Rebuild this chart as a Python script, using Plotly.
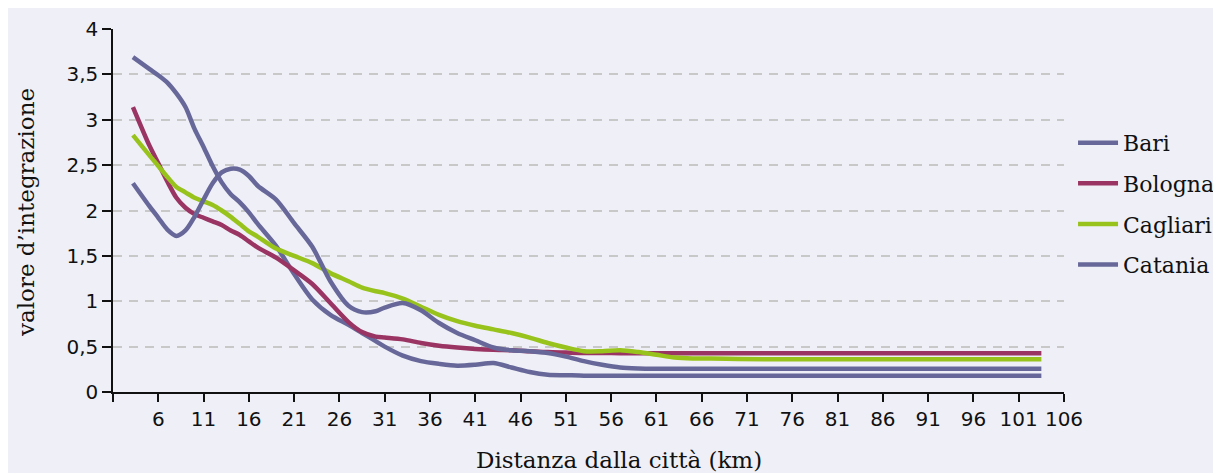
import plotly.graph_objects as go

# Distance from the city (km) at which values were read
km = [3.2, 5, 6, 7, 8, 9, 10, 11, 12, 13, 14, 15, 16, 17, 19, 21, 23, 25, 27, 28.5,
      30, 31, 33, 35, 37, 39, 41, 43, 45, 47, 49, 51, 53, 55, 57, 59, 61, 63, 65, 67,
      70, 75, 103.5]

bari = [3.69, 3.56, 3.49, 3.41, 3.29, 3.14, 2.90, 2.70, 2.49, 2.31, 2.18, 2.09, 1.98, 1.85, 1.61, 1.30, 1.02, 0.85, 0.74, 0.65,
        0.56, 0.50, 0.40, 0.34, 0.31, 0.29, 0.30, 0.32, 0.27, 0.22, 0.19, 0.185, 0.18, 0.18, 0.18, 0.18, 0.18, 0.18, 0.18, 0.18,
        0.18, 0.18, 0.18]

bologna = [3.14, 2.72, 2.52, 2.32, 2.14, 2.03, 1.96, 1.92, 1.88, 1.84, 1.78, 1.73, 1.66, 1.59, 1.48, 1.34, 1.19, 0.98, 0.77, 0.66,
           0.61, 0.60, 0.58, 0.54, 0.51, 0.49, 0.475, 0.465, 0.46, 0.45, 0.44, 0.435, 0.43, 0.43, 0.428, 0.427, 0.426, 0.426, 0.426, 0.426,
           0.426, 0.426, 0.426]

cagliari = [2.83, 2.61, 2.49, 2.37, 2.26, 2.20, 2.14, 2.10, 2.06, 2.00, 1.93, 1.85, 1.77, 1.71, 1.58, 1.50, 1.42, 1.31, 1.22, 1.15,
            1.11, 1.09, 1.03, 0.94, 0.85, 0.78, 0.73, 0.69, 0.65, 0.60, 0.54, 0.49, 0.45, 0.45, 0.46, 0.44, 0.41, 0.38, 0.37, 0.37,
            0.365, 0.36, 0.36]

catania = [2.30, 2.05, 1.92, 1.79, 1.72, 1.78, 1.93, 2.12, 2.30, 2.42, 2.46, 2.45, 2.38, 2.27, 2.12, 1.86, 1.60, 1.22, 0.95, 0.88,
           0.89, 0.93, 0.98, 0.90, 0.76, 0.65, 0.57, 0.49, 0.46, 0.45, 0.43, 0.39, 0.34, 0.30, 0.27, 0.26, 0.257, 0.257, 0.257, 0.257,
           0.257, 0.257, 0.257]

series_names = ["Bari", "Bologna", "Cagliari", "Catania"]
series_values = [bari, bologna, cagliari, catania]
series_colors = ["#676899", "#9A3462", "#98C21C", "#676899"]

x_tickvals = list(range(1, 107, 5))
x_ticktext = [""] + [str(v) for v in range(6, 107, 5)]
y_tickvals = [0, 0.5, 1, 1.5, 2, 2.5, 3, 3.5, 4]

BG = "#EFF0F7"
SERIF = "DejaVu Serif"
SANS = "DejaVu Sans"
INK = "#111111"

fig = go.Figure()
for i, (name, vals, col) in enumerate(zip(series_names, series_values, series_colors)):
    fig.add_trace(go.Scatter(
        x=km, y=vals, name=name, mode="lines",
        line=dict(color=col, width=4.5, shape="spline", smoothing=0.8),
        legendgroup=name,
    ))

# page body has an 8px margin; figure is sized to fit the window
fig.update_layout(
    width=1213, height=465,
    margin=dict(l=105, r=157, t=21, b=81, autoexpand=False),
    paper_bgcolor=BG, plot_bgcolor=BG,
    separators=",.",
    showlegend=True,
    legend=dict(
        x=1.0095, xanchor="left", y=0.518, yanchor="middle",
        font=dict(family=SERIF, size=22, color=INK),
        bgcolor="rgba(0,0,0,0)", tracegroupgap=9,
        itemwidth=40,
    ),
    xaxis=dict(
        range=[1, 106], tickvals=x_tickvals, ticktext=x_ticktext,
        showgrid=False, zeroline=False,
        showline=True, linecolor=INK, linewidth=1.5,
        ticks="outside", ticklen=8, tickwidth=1.5, tickcolor=INK,
        tickfont=dict(family=SANS, size=20, color=INK),
    ),
    yaxis=dict(
        range=[0, 4], tickvals=y_tickvals,
        showgrid=True, gridcolor="#C8C8C8", gridwidth=1.5, griddash="9px,7px",
        zeroline=False,
        showline=True, linecolor=INK, linewidth=1.5,
        ticks="outside", ticklen=9, tickwidth=1.5, tickcolor=INK,
        tickfont=dict(family=SANS, size=20, color=INK),
    ),
    annotations=[
        dict(text="Distanza dalla città (km)", xref="paper", yref="paper",
             x=(619 - 113) / 951, y=-(460 - 392) / 363, xanchor="center", yanchor="middle",
             showarrow=False, font=dict(family=SERIF, size=23, color=INK)),
        dict(text="valore d’integrazione", xref="paper", yref="paper",
             x=-(113 - 26) / 951, y=(392 - 213) / 363, xanchor="center", yanchor="middle",
             textangle=-90, showarrow=False, font=dict(family=SERIF, size=23, color=INK)),
    ],
)

fig.write_html("out.html")
